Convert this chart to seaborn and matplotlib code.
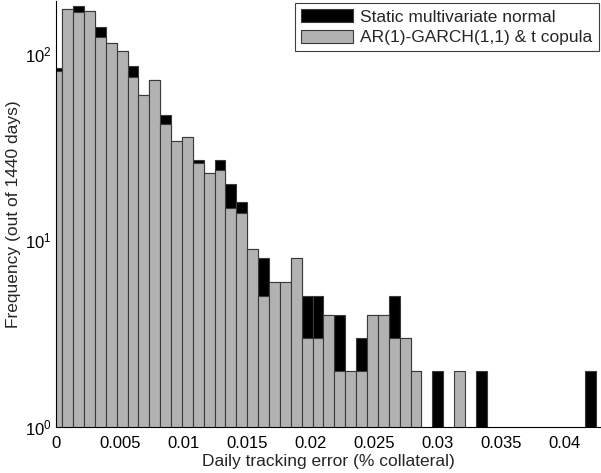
import numpy as np
import pandas as pd
import matplotlib
matplotlib.use("Agg")
import matplotlib.pyplot as plt
import seaborn as sns
from matplotlib.patches import Patch

# histogram bins (50 equal bins, as in the original hist call)
bin_lo = -0.00039
bin_width = 0.000857
n_bins = 50

# counts per bin, first bin partly left of zero
static_normal = [84, 174, 182, 170, 140, 115, 104, 86, 60, 73,
                 47, 34, 36, 27, 23, 27, 20, 16, 9, 8,
                 6, 6, 8, 5, 5, 4, 4, 2, 3, 4,
                 4, 5, 3, 2, 0, 2, 0, 0, 0, 2,
                 0, 0, 0, 0, 0, 0, 0, 0, 0, 2]
garch_t = [81, 174, 169, 170, 124, 115, 104, 75, 60, 73,
           42, 34, 36, 26, 23, 24, 15, 14, 9, 5,
           6, 6, 8, 3, 3, 4, 2, 2, 2, 4,
           4, 3, 3, 2, 0, 0, 0, 2, 0, 0,
           0, 0, 0, 0, 0, 0, 0, 0, 0, 0]
labels = ["Static multivariate normal", "AR(1)-GARCH(1,1) & t copula"]
xticks = [0, 0.005, 0.01, 0.015, 0.02, 0.025, 0.03, 0.035, 0.04]
xticklabels = ["0", "0.005", "0.01", "0.015", "0.02", "0.025", "0.03", "0.035", "0.04"]

edges = list(bin_lo + bin_width * np.arange(n_bins + 1))
centers = [(a + b) / 2 for a, b in zip(edges[:-1], edges[1:])]
df = pd.DataFrame({"err": centers, "static": static_normal, "garch": garch_t})

sns.set_style("white")
plt.rcParams["font.family"] = ["Liberation Sans", "DejaVu Sans"]
plt.rcParams["font.size"] = 12.5

fig = plt.figure(figsize=(6.01, 4.73), dpi=100)
ax = fig.add_axes([0.0937, 0.098, 0.9063, 0.9])

black = "#000000"
grey = "#b2b2b2"
edge = "#3a3a3a"

sns.histplot(data=df, x="err", weights="static", bins=edges, color=black,
             edgecolor=edge, linewidth=0.8, alpha=1, ax=ax)
sns.histplot(data=df, x="err", weights="garch", bins=edges, color=grey,
             edgecolor=edge, linewidth=0.8, alpha=1, ax=ax)

ax.set_yscale("log")
ax.set_ylim(1, 193)
ax.set_xlim(0, 0.04289)
ax.set_xticks(xticks)
ax.set_xticklabels(xticklabels)
ax.minorticks_off()
ax.tick_params(direction="in", length=5, width=0.8, colors="black", labelsize=12)
ax.tick_params(axis="x", pad=7)
for s in ["top", "right"]:
    ax.spines[s].set_visible(False)
for s in ["left", "bottom"]:
    ax.spines[s].set_color("black")
    ax.spines[s].set_linewidth(0.8)

ax.set_xlabel("Daily tracking error (% collateral)", fontsize=12.5, labelpad=2)
ax.set_ylabel("Frequency (out of 1440 days)", fontsize=12.5, labelpad=3)

handles = [Patch(facecolor=black, edgecolor=edge, linewidth=0.8),
           Patch(facecolor=grey, edgecolor=edge, linewidth=0.8)]
leg = ax.legend(handles, labels, loc="upper right", bbox_to_anchor=(0.996, 0.993),
                bbox_transform=fig.transFigure, fancybox=False, framealpha=1,
                edgecolor="#404040", handlelength=3.0, handleheight=0.75,
                handletextpad=0.4, labelspacing=0.3, borderpad=0.35,
                borderaxespad=0, fontsize=12.5)
leg.get_frame().set_linewidth(0.8)

fig.savefig("out.png", dpi=100)
